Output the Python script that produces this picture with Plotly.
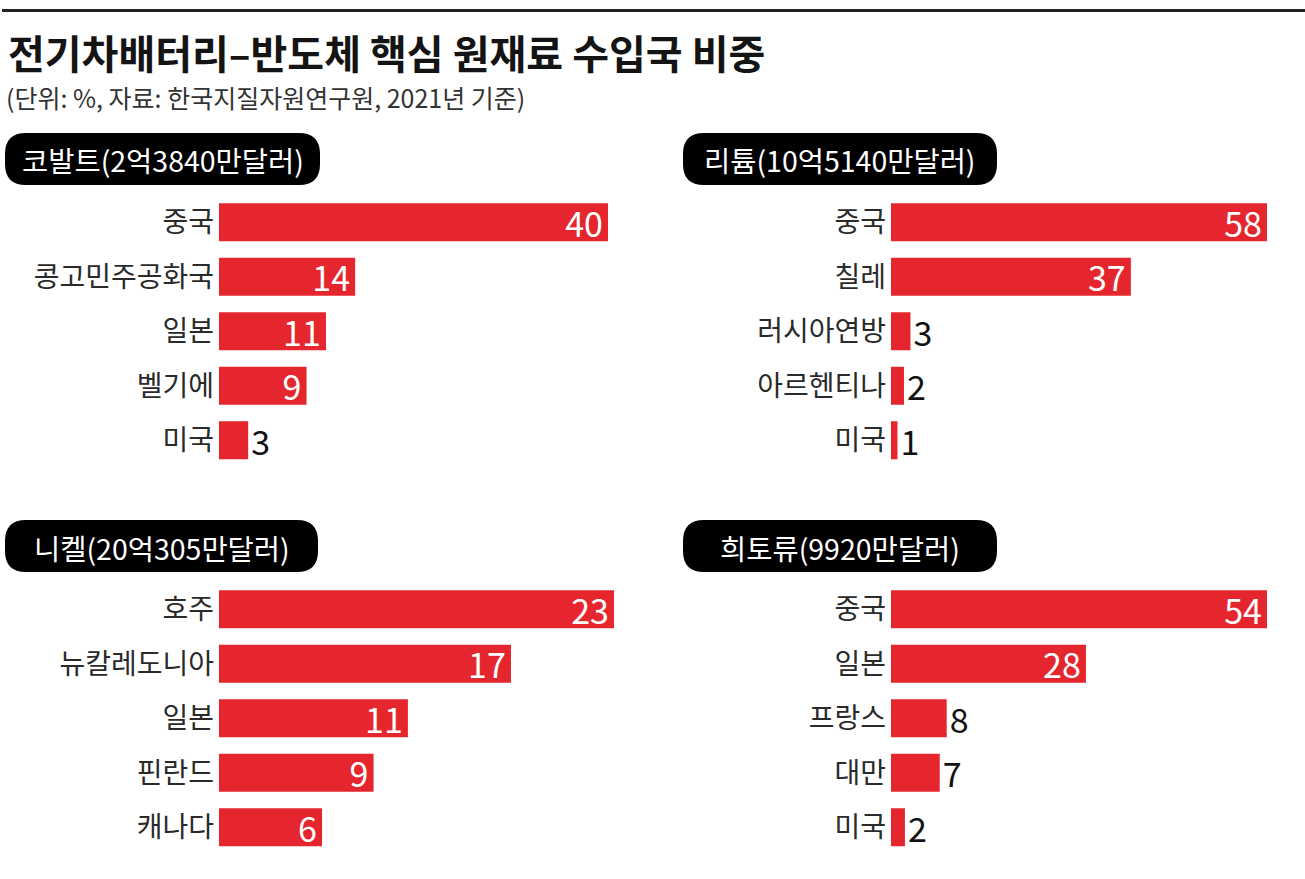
import plotly.graph_objects as go

W, H = 1305, 879

TITLE = "전기차배터리–반도체 핵심 원재료 수입국 비중"
SUBTITLE = "(단위: %, 자료: 한국지질자원연구원, 2021년 기준)"

COBALT_TITLE = "코발트(2억3840만달러)"
COBALT_COUNTRIES = ["중국", "콩고민주공화국", "일본", "벨기에", "미국"]
COBALT_SHARE = [40, 14, 11, 9, 3]

LITHIUM_TITLE = "리튬(10억5140만달러)"
LITHIUM_COUNTRIES = ["중국", "칠레", "러시아연방", "아르헨티나", "미국"]
LITHIUM_SHARE = [58, 37, 3, 2, 1]

NICKEL_TITLE = "니켈(20억305만달러)"
NICKEL_COUNTRIES = ["호주", "뉴칼레도니아", "일본", "핀란드", "캐나다"]
NICKEL_SHARE = [23, 17, 11, 9, 6]

RARE_TITLE = "희토류(9920만달러)"
RARE_COUNTRIES = ["중국", "일본", "프랑스", "대만", "미국"]
RARE_SHARE = [54, 28, 8, 7, 2]

RED = "#e5262e"
KR = "Noto Sans CJK KR"

# (title, countries, values, bar start px, max-bar end px, row-area top px, pill x0, pill x1, pill top)
PANELS = [
    (COBALT_TITLE, COBALT_COUNTRIES, COBALT_SHARE, 219, 608, 195, 5, 320, 133),
    (LITHIUM_TITLE, LITHIUM_COUNTRIES, LITHIUM_SHARE, 891, 1267, 195, 683, 997, 133),
    (NICKEL_TITLE, NICKEL_COUNTRIES, NICKEL_SHARE, 219, 614, 582, 5, 318, 520),
    (RARE_TITLE, RARE_COUNTRIES, RARE_SHARE, 891, 1267, 582, 683, 997, 520),
]
ROW = 54.5


def X(p):
    return p / W


def Y(p):
    return 1 - p / H


def pill_path(x0, x1, y0, y1, r):
    return (
        f"M {X(x0 + r)},{Y(y0)} L {X(x1 - r)},{Y(y0)} "
        f"Q {X(x1)},{Y(y0)} {X(x1)},{Y(y0 + r)} L {X(x1)},{Y(y1 - r)} "
        f"Q {X(x1)},{Y(y1)} {X(x1 - r)},{Y(y1)} L {X(x0 + r)},{Y(y1)} "
        f"Q {X(x0)},{Y(y1)} {X(x0)},{Y(y1 - r)} L {X(x0)},{Y(y0 + r)} "
        f"Q {X(x0)},{Y(y0)} {X(x0 + r)},{Y(y0)} Z"
    )


fig = go.Figure()
shapes = [dict(type="line", xref="paper", yref="paper", x0=X(2), x1=1, y0=Y(10.5), y1=Y(10.5),
               line=dict(color="#222222", width=3))]
annotations = [
    dict(text=f"<b>{TITLE}</b>", x=X(6), y=Y(52), xref="paper", yref="paper", xanchor="left",
         yanchor="middle", showarrow=False, font=dict(family=KR, size=40, color="#141414")),
    dict(text=SUBTITLE, x=X(4), y=Y(97), xref="paper", yref="paper", xanchor="left",
         yanchor="middle", showarrow=False, font=dict(family=KR, size=25, color="#333333")),
]

for i, (title, cats, vals, bx0, bx1, top, px0, px1, py0) in enumerate(PANELS, start=1):
    unit = (bx1 - bx0) / max(vals)
    inside = [v * unit > 70 for v in vals]
    fig.add_trace(go.Bar(
        x=vals, y=cats, orientation="h", width=0.7,
        marker=dict(color=RED, line=dict(width=0)),
        text=[f"{v}\u200a" if ins else str(v) for v, ins in zip(vals, inside)],
        textposition=["inside" if ins else "outside" for ins in inside],
        insidetextanchor="end", textangle=0,
        insidetextfont=dict(family=KR, size=34, color="white"),
        outsidetextfont=dict(family=KR, size=34, color="#111111"),
        cliponaxis=False, constraintext="none",
        xaxis=f"x{i}", yaxis=f"y{i}", hoverinfo="skip",
    ))
    sfx = "" if i == 1 else str(i)
    fig.layout[f"xaxis{sfx}"] = dict(
        domain=[X(bx0), X(bx1)], range=[0, max(vals)], visible=False,
        anchor=f"y{i}", fixedrange=True,
    )
    fig.layout[f"yaxis{sfx}"] = dict(
        domain=[Y(top + 5 * ROW), Y(top)], range=[4.5, -0.5], type="category",
        anchor=f"x{i}", showgrid=False, showline=False, zeroline=False, ticks="",
        ticklabelstandoff=4, tickfont=dict(family=KR, size=28, color="#2a2a2a"),
        fixedrange=True,
    )
    shapes.append(dict(type="path", xref="paper", yref="paper",
                       path=pill_path(px0, px1, py0, py0 + 52, 21),
                       fillcolor="#000000", line=dict(width=0)))
    annotations.append(dict(text=title, x=X((px0 + px1) / 2), y=Y(py0 + 27), xref="paper",
                            yref="paper", xanchor="center", yanchor="middle", showarrow=False,
                            font=dict(family=KR, size=28.5, color="white")))

fig.update_layout(
    width=W, height=H, margin=dict(l=0, r=0, t=0, b=0),
    paper_bgcolor="white", plot_bgcolor="white", showlegend=False,
    shapes=shapes, annotations=annotations,
)

# drop the browser's default body margin so the figure sits at the window corner
fig.write_html("out.html", config={"displayModeBar": False},
               post_script="document.body.style.margin='0';")
